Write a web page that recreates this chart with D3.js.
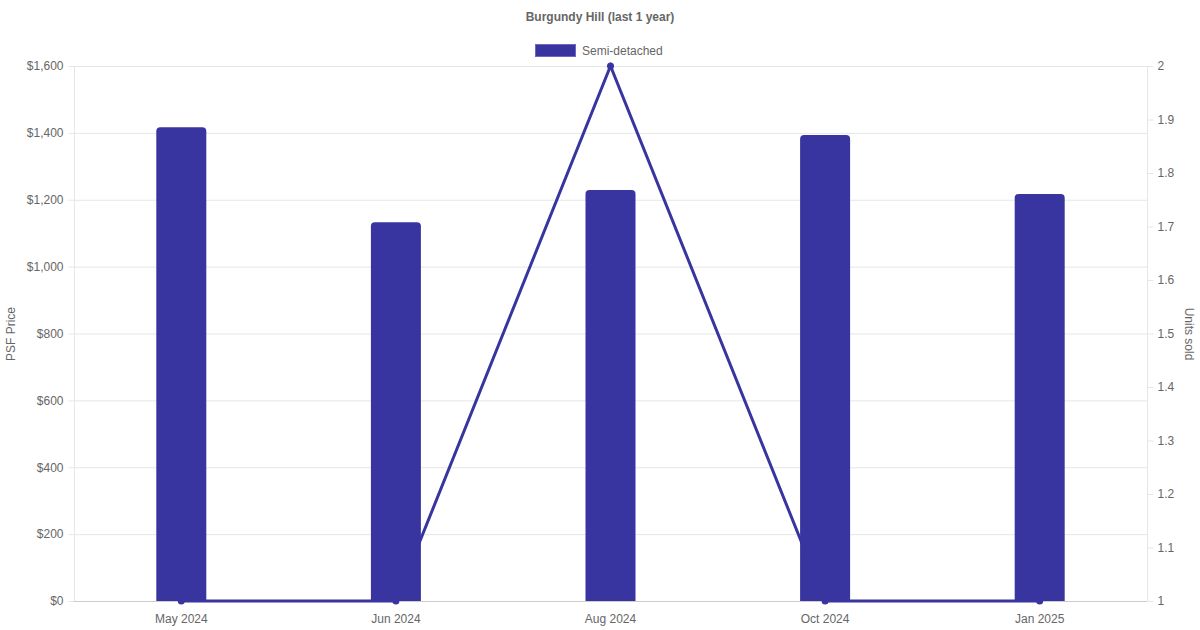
<!DOCTYPE html>
<html><head><meta charset="utf-8">
<script src="https://cdn.jsdelivr.net/npm/d3@7"></script>
<style>
html,body{margin:0;padding:0;background:#fff;}
svg{display:block;font-family:"Liberation Sans",Arial,sans-serif;}
</style></head>
<body>
<svg id="c" width="1200" height="630"></svg>
<script>
const categories = ["May 2024","Jun 2024","Aug 2024","Oct 2024","Jan 2025"];
const psfPrice = [1417, 1133, 1229, 1394, 1217];
const unitsSold = [1, 1, 2, 1, 1];
const leftTicks = [0,200,400,600,800,1000,1200,1400,1600];
const rightTicks = [1,1.1,1.2,1.3,1.4,1.5,1.6,1.7,1.8,1.9,2];
const seriesName = "Semi-detached";
const titleText = "Burgundy Hill (last 1 year)";

const color = "#3935a0";
const svg = d3.select("#c");
const L = 74, R = 1147, T = 66, B = 601;

const x = d3.scaleBand().domain(categories).range([L, R]);
const yL = d3.scaleLinear().domain([0,1600]).range([B, T]);
const yR = d3.scaleLinear().domain([1,2]).range([B, T]);

// gridlines
svg.append("g").selectAll("line").data(leftTicks).join("line")
  .attr("x1", L).attr("x2", R)
  .attr("y1", d=>yL(d)+0.5).attr("y2", d=>yL(d)+0.5)
  .attr("stroke", "#e6e6e6").attr("stroke-width",1);

// left axis
const gL = svg.append("g").attr("transform", `translate(${L+0.5},0)`)
  .call(d3.axisLeft(yL).tickValues(leftTicks).tickSize(6).tickPadding(5)
    .tickFormat(d => "$" + d3.format(",")(d)));
gL.select(".domain").attr("stroke","#e6e6e6").attr("d", `M0,${T}V${B}`);
gL.selectAll(".tick line").attr("stroke","#e6e6e6");
gL.selectAll(".tick text").attr("fill","#666").attr("font-size",12)
  .attr("font-family","Liberation Sans, Arial, sans-serif");

// right axis
const gR = svg.append("g").attr("transform", `translate(${R+0.5},0)`)
  .call(d3.axisRight(yR).tickValues(rightTicks).tickSize(6).tickPadding(4)
    .tickFormat(d => d3.format("")(+d.toFixed(1))));
gR.select(".domain").attr("stroke","#e6e6e6").attr("d", `M0,${T}V${B}`);
gR.selectAll(".tick line").attr("stroke","#e6e6e6");
gR.selectAll(".tick text").attr("fill","#666").attr("font-size",12)
  .attr("font-family","Liberation Sans, Arial, sans-serif");

// bottom axis
const gB = svg.append("g").attr("transform", `translate(0,${B+0.5})`)
  .call(d3.axisBottom(x).tickSize(0).tickPadding(13));
gB.select(".domain").attr("stroke","#cccccc").attr("d", `M${L},0H${R}`);
gB.selectAll(".tick text").attr("fill","#666").attr("font-size",12)
  .attr("font-family","Liberation Sans, Arial, sans-serif");

// bars with rounded top
const bw = 50, r = 4;
svg.append("g").selectAll("path").data(psfPrice).join("path")
  .attr("d", (d,i) => {
    const cx = x(categories[i]) + x.bandwidth()/2;
    const x0 = cx - bw/2, x1 = cx + bw/2, y0 = yL(d), yb = yL(0);
    return `M${x0},${yb}V${y0+r}Q${x0},${y0} ${x0+r},${y0}H${x1-r}Q${x1},${y0} ${x1},${y0+r}V${yb}Z`;
  })
  .attr("fill", color);

// line
const line = d3.line()
  .x((d,i) => x(categories[i]) + x.bandwidth()/2)
  .y(d => yR(d));
svg.append("path").datum(unitsSold).attr("d", line)
  .attr("fill","none").attr("stroke", color).attr("stroke-width",3);
svg.append("g").selectAll("circle").data(unitsSold).join("circle")
  .attr("cx", (d,i) => x(categories[i]) + x.bandwidth()/2)
  .attr("cy", d => yR(d)).attr("r", 3.5).attr("fill", color);

// title
svg.append("text").attr("x", 600).attr("y", 21).attr("text-anchor","middle")
  .attr("font-size",12).attr("font-weight","bold").attr("fill","#666").text(titleText);

// legend
svg.append("rect").attr("x",535.5).attr("y",44.5).attr("width",40).attr("height",12)
  .attr("fill",color).attr("stroke","#6b68c0").attr("stroke-width",1);
svg.append("text").attr("x",582).attr("y",54.5).attr("font-size",12).attr("fill","#666").text(seriesName);

// axis titles
svg.append("text").attr("transform","translate(15,334) rotate(-90)").attr("text-anchor","middle")
  .attr("font-size",12).attr("fill","#666").text("PSF Price");
svg.append("text").attr("transform","translate(1185,334) rotate(90)").attr("text-anchor","middle")
  .attr("font-size",12).attr("fill","#666").text("Units sold");
</script>
</body></html>
